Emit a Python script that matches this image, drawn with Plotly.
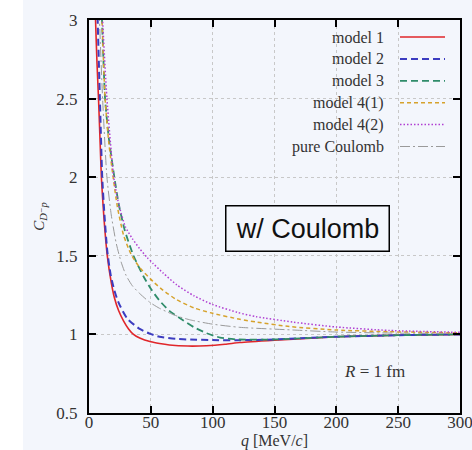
import plotly.graph_objects as go

# ---------------- data ----------------
names = ["model 1", "model 2", "model 3", "model 4(1)", "model 4(2)", "pure Coulomb"]

q_m1 = [4.5, 5.3, 6.5, 7.7, 9, 10, 12, 14.8, 18, 20.5, 24, 28, 32, 36, 41, 50, 57, 65, 80, 95, 110, 122, 150, 165, 200, 250, 300]
c_m1 = [3.3, 3.0, 2.72, 2.5, 2.22, 2.0, 1.75, 1.5, 1.33, 1.235, 1.15, 1.085, 1.035, 1.0, 0.977, 0.953, 0.942, 0.933, 0.926, 0.928, 0.937, 0.948, 0.963, 0.97, 0.985, 0.995, 1.0]

q_m2 = [6, 7, 8.8, 10.7, 12.5, 14.8, 17.5, 20.5, 24, 31, 41, 49, 57, 70, 82, 100, 120, 150, 200, 250, 300]
c_m2 = [3.3, 3.0, 2.5, 2.0, 1.76, 1.53, 1.38, 1.28, 1.2, 1.1, 1.035, 1.005, 0.985, 0.972, 0.967, 0.964, 0.963, 0.968, 0.985, 0.995, 1.0]

q_m3 = [9, 10.5, 13, 16, 20.5, 24, 29, 36, 44, 50, 57, 65, 76, 85, 95, 106, 120, 150, 200, 250, 300]
c_m3 = [3.3, 3.0, 2.5, 2.25, 2.0, 1.83, 1.66, 1.5, 1.37, 1.29, 1.215, 1.15, 1.09, 1.045, 1.008, 0.98, 0.968, 0.968, 0.985, 0.995, 1.0]

q_m41 = [9, 10.5, 13, 16, 19.5, 23, 28, 34, 41, 52, 60, 71, 85, 100, 122, 136, 162, 200, 243, 300]
c_m41 = [3.3, 3.0, 2.5, 2.22, 2.0, 1.81, 1.63, 1.51, 1.425, 1.335, 1.28, 1.22, 1.168, 1.134, 1.096, 1.078, 1.05, 1.028, 1.017, 1.01]

q_m42 = [9.5, 11, 14.5, 20, 24, 29.4, 35, 41, 47, 52, 60, 71, 85, 100, 120, 135, 165, 200, 243, 300]
c_m42 = [3.3, 3.0, 2.5, 2.0, 1.83, 1.685, 1.61, 1.545, 1.49, 1.45, 1.39, 1.315, 1.245, 1.19, 1.14, 1.113, 1.078, 1.047, 1.025, 1.013]

q_pc = [7, 8.5, 11, 14.5, 18, 22, 26, 30, 35, 41, 49, 57, 70, 82, 100, 122, 165, 200, 250, 300]
c_pc = [3.4, 3.0, 2.5, 2.0, 1.76, 1.58, 1.46, 1.375, 1.31, 1.26, 1.205, 1.166, 1.12, 1.092, 1.065, 1.045, 1.028, 1.015, 1.008, 1.005]

x_ticks = [0, 50, 100, 150, 200, 250, 300]
y_ticks = [0.5, 1, 1.5, 2, 2.5, 3]

# ---------------- styles ----------------
series = [
    (q_m1, c_m1, "#e0262a", "solid", 1.6),
    (q_m2, c_m2, "#3c3cc0", "7px,4px", 2.0),
    (q_m3, c_m3, "#2f8c6a", "7px,4px", 1.8),
    (q_m41, c_m41, "#d6a22c", "4px,3px", 1.5),
    (q_m42, c_m42, "#b03fd2", "1.5px,2px", 1.5),
    (q_pc, c_pc, "#9a9a9a", "10px,3px,2px,3px", 1.0),
]

BG = "#f3f6fc"
W, H = 472, 450
ML, MR, MT, MB = 89, 12, 20, 37
PW, PH = W - ML - MR, H - MT - MB

def fx(px):
    return (px - ML) / PW

def fy(py):
    return (H - MB - py) / PH

fig = go.Figure()
for (qq, cc, col, dash, wid), nm in zip(series, names):
    fig.add_trace(go.Scatter(x=qq, y=cc, mode="lines", name=nm,
                             line=dict(color=col, dash=dash, width=wid, shape="spline", smoothing=0.6),
                             showlegend=False))

serif = "Liberation Serif, DejaVu Serif, serif"
axis_common = dict(showline=True, linecolor="black", linewidth=2, mirror="ticks",
                   ticks="inside", ticklen=7, tickwidth=1.5, tickcolor="black",
                   showgrid=True, gridcolor="#c8c8c8", griddash="dot", gridwidth=1,
                   zeroline=False, automargin=False, ticklabeloverflow="allow",
                   tickfont=dict(family=serif, size=17, color="#333"))

fig.update_xaxes(range=[0, 300], tickvals=x_ticks, ticktext=[str(v) for v in x_ticks],
                 title=dict(text="<i>q</i> [MeV/<i>c</i>]", font=dict(family=serif, size=16, color="#333"), standoff=0),
                 ticklabelstandoff=-7, **axis_common)
fig.update_yaxes(range=[0.5, 3], tickvals=y_ticks, ticktext=["0.5", "1", "1.5", "2", "2.5", "3"],
                 title=dict(text="<i>C</i><sub><i>D</i>⁻<i>p</i></sub>", font=dict(family=serif, size=15, color="#333"), standoff=8),
                 ticklabelstandoff=6, **axis_common)

shapes = [dict(type="rect", xref="paper", yref="paper", x0=fx(23), x1=fx(W + 5), y0=fy(H + 5), y1=fy(0),
               fillcolor=BG, line=dict(width=0), layer="below")]
annotations = []

# manual legend: text on the left, line sample on the right
for i, ((qq, cc, col, dash, wid), nm) in enumerate(zip(series, names)):
    py = 37 + i * 21.9
    annotations.append(dict(xref="paper", yref="paper", x=fx(386), y=fy(py), xanchor="right", yanchor="middle",
                            text=nm, showarrow=False, font=dict(family=serif, size=16, color="#333")))
    shapes.append(dict(type="line", xref="paper", yref="paper", x0=fx(400), x1=fx(445), y0=fy(py), y1=fy(py),
                       line=dict(color=col, dash=dash, width=wid)))

annotations.append(dict(x=176.5, y=1.672, xref="x", yref="y", text="w/ Coulomb", showarrow=False,
                        font=dict(family="Liberation Sans, Arial, sans-serif", size=27, color="#111"),
                        bordercolor="black", borderwidth=1.5, borderpad=2, bgcolor=BG,
                        width=158, height=40))
annotations.append(dict(x=231, y=0.767, xref="x", yref="y", text="<i>R</i> = 1 fm", showarrow=False,
                        font=dict(family=serif, size=17, color="#333")))

fig.update_layout(width=W, height=H, margin=dict(l=ML, r=MR, t=MT, b=MB, autoexpand=False),
                  paper_bgcolor="white", plot_bgcolor=BG,
                  shapes=shapes, annotations=annotations, showlegend=False)

fig.write_html("out.html")
